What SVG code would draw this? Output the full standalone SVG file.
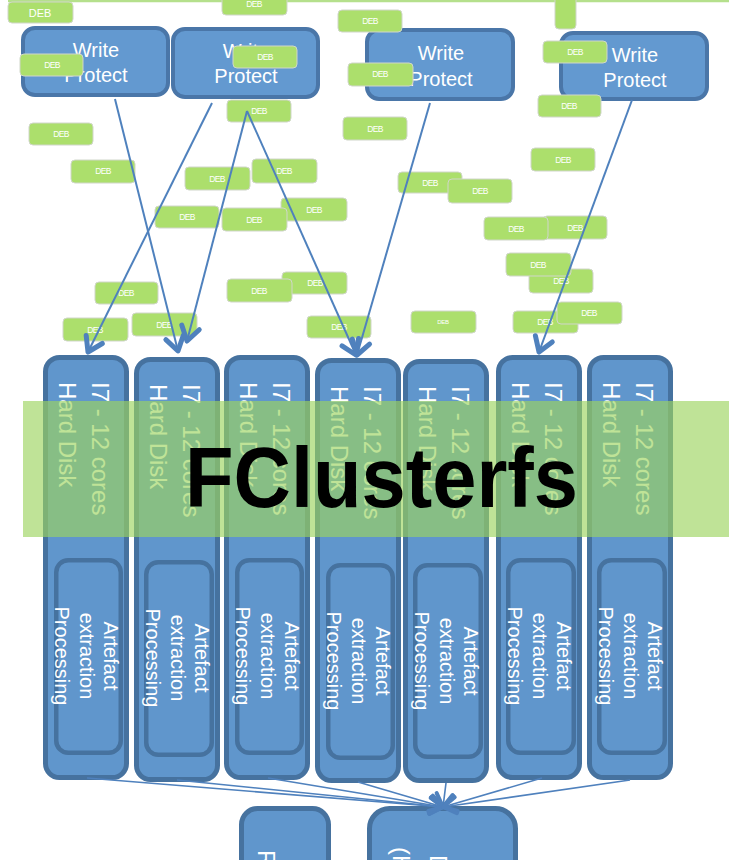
<svg xmlns="http://www.w3.org/2000/svg" width="729" height="860" viewBox="0 0 729 860">
<defs>
<style>
.wp rect{fill:#6399d0;stroke:#4a76a8;stroke-width:4}
.wt{font-family:"Liberation Sans",Arial,sans-serif;font-size:20px;fill:#fff;text-anchor:middle}
.dib rect{fill:#acdf6c;stroke:#d0d6ca;stroke-width:1}
.dib text{font-family:"Liberation Sans",Arial,sans-serif;font-size:8.5px;fill:#fff;text-anchor:middle;letter-spacing:-0.6px}
.outer{fill:#6096cc;stroke:#46729f;stroke-width:5}
.inner{fill:#6096cc;stroke:#46729f;stroke-width:4.5}
.ct{font-family:"Liberation Sans",Arial,sans-serif;font-size:24px;fill:#fff}
.at{font-family:"Liberation Sans",Arial,sans-serif;font-size:20px;fill:#fff;text-anchor:middle}
.top line{stroke:#4f81bd;stroke-width:2;fill:none;marker-end:url(#ah)}
.bot line{stroke:#4f81bd;stroke-width:1.6;fill:none;marker-end:url(#ah2)}
</style>
<marker id="ah" markerUnits="userSpaceOnUse" viewBox="-20 -14 26 28" refX="0" refY="0" markerWidth="26" markerHeight="28" orient="auto" overflow="visible">
<path d="M-14,-9 L0,0 L-14,9" fill="none" stroke="#4f81bd" stroke-width="5" stroke-linecap="round" stroke-linejoin="round"/>
</marker>
<marker id="ah2" markerUnits="userSpaceOnUse" viewBox="-20 -14 26 28" refX="0" refY="0" markerWidth="26" markerHeight="28" orient="auto" overflow="visible">
<path d="M-13,-8 L0,0 L-13,8" fill="none" stroke="#4f81bd" stroke-width="4" stroke-linecap="round" stroke-linejoin="round"/>
</marker>
</defs>

<line x1="8" y1="1" x2="729" y2="1" stroke="#b5e08c" stroke-width="2.5"/>

<g id="wp1" class="wp"><rect x="23" y="28" width="145" height="67" rx="12"/><text class="wt" x="96" y="57">Write</text><text class="wt" x="96" y="82">Protect</text></g>
<g id="wp2" class="wp"><rect x="173" y="29" width="145" height="68" rx="12"/><text class="wt" x="246" y="58">Write</text><text class="wt" x="246" y="83">Protect</text></g>
<g id="wp3" class="wp"><rect x="367" y="30" width="146" height="69" rx="12"/><text class="wt" x="441" y="60">Write</text><text class="wt" x="441" y="86">Protect</text></g>
<g id="wp4" class="wp"><rect x="561" y="33" width="146" height="66" rx="12"/><text class="wt" x="635" y="62">Write</text><text class="wt" x="635" y="87">Protect</text></g>

<g id="dibs" class="dib">
<g id="dib1"><rect x="8" y="2" width="65" height="21" rx="4"/><text x="40" y="17" style="font-size:11px;letter-spacing:0">DEB</text></g>
<g id="dib2"><rect x="222" y="-8" width="65" height="23" rx="4"/><text x="254" y="7">DEB</text></g>
<g id="dib3"><rect x="20" y="54" width="63" height="22" rx="4"/><text x="52" y="68">DEB</text></g>
<g id="dib4"><rect x="233" y="46" width="64" height="22" rx="4"/><text x="265" y="60">DEB</text></g>
<g id="dib5"><rect x="227" y="100" width="64" height="22" rx="4"/><text x="259" y="114">DEB</text></g>
<g id="dib6"><rect x="338" y="10" width="64" height="22" rx="4"/><text x="370" y="24">DEB</text></g>
<g id="dib7"><rect x="348" y="63" width="65" height="23" rx="4"/><text x="380" y="77">DEB</text></g>
<g id="dib8"><rect x="555" y="-5" width="21" height="34" rx="4"/></g>
<g id="dib9"><rect x="543" y="41" width="64" height="22" rx="4"/><text x="575" y="55">DEB</text></g>
<g id="dib10"><rect x="538" y="95" width="63" height="22" rx="4"/><text x="569" y="109">DEB</text></g>
<g id="dib11"><rect x="29" y="123" width="64" height="22" rx="4"/><text x="61" y="137">DEB</text></g>
<g id="dib12"><rect x="71" y="160" width="64" height="23" rx="4"/><text x="103" y="174">DEB</text></g>
<g id="dib13"><rect x="185" y="167" width="65" height="23" rx="4"/><text x="217" y="182">DEB</text></g>
<g id="dib14"><rect x="252" y="159" width="65" height="24" rx="4"/><text x="284" y="174">DEB</text></g>
<g id="dib15"><rect x="155" y="206" width="64" height="22" rx="4"/><text x="187" y="220">DEB</text></g>
<g id="dib17"><rect x="281" y="198" width="66" height="23" rx="4"/><text x="314" y="213">DEB</text></g>
<g id="dib16"><rect x="222" y="208" width="65" height="23" rx="4"/><text x="254" y="223">DEB</text></g>
<g id="dib18"><rect x="343" y="117" width="64" height="23" rx="4"/><text x="375" y="132">DEB</text></g>
<g id="dib19"><rect x="95" y="282" width="63" height="22" rx="4"/><text x="126" y="296">DEB</text></g>
<g id="dib21"><rect x="282" y="272" width="65" height="22" rx="4"/><text x="315" y="286">DEB</text></g>
<g id="dib20"><rect x="227" y="279" width="65" height="23" rx="4"/><text x="259" y="294">DEB</text></g>
<g id="dib22"><rect x="63" y="318" width="65" height="23" rx="4"/><text x="95" y="333">DEB</text></g>
<g id="dib23"><rect x="132" y="313" width="65" height="23" rx="4"/><text x="164" y="328">DEB</text></g>
<g id="dib24"><rect x="307" y="316" width="64" height="22" rx="4"/><text x="339" y="330">DEB</text></g>
<g id="dib25"><rect x="398" y="172" width="64" height="21" rx="4"/><text x="430" y="186">DEB</text></g>
<g id="dib26"><rect x="448" y="179" width="64" height="24" rx="4"/><text x="480" y="194">DEB</text></g>
<g id="dib27"><rect x="531" y="148" width="64" height="23" rx="4"/><text x="563" y="163">DEB</text></g>
<g id="dib29"><rect x="543" y="216" width="64" height="23" rx="4"/><text x="575" y="231">DEB</text></g>
<g id="dib28"><rect x="484" y="217" width="64" height="23" rx="4"/><text x="516" y="232">DEB</text></g>
<g id="dib31"><rect x="529" y="269" width="64" height="24" rx="4"/><text x="561" y="284">DEB</text></g>
<g id="dib30"><rect x="506" y="253" width="65" height="23" rx="4"/><text x="538" y="268">DEB</text></g>
<g id="dib32"><rect x="411" y="311" width="65" height="22" rx="4"/><text x="443" y="324" style="font-size:6px;letter-spacing:-0.3px">DEB</text></g>
<g id="dib33"><rect x="513" y="311" width="65" height="22" rx="4"/><text x="545" y="325">DEB</text></g>
<g id="dib34"><rect x="557" y="302" width="65" height="22" rx="4"/><text x="589" y="316">DEB</text></g>
</g>

<g id="col1"><rect class="outer" x="45.5" y="357.5" width="81" height="420" rx="14"/><rect class="inner" x="56.25" y="560.25" width="64.5" height="192.5" rx="12"/>
<text class="ct" transform="translate(92,382) rotate(90)">I7 - 12 cores</text><text class="ct" transform="translate(59,382) rotate(90)">Hard Disk</text>
<text class="at" transform="translate(104,656) rotate(90)">Artefact</text><text class="at" transform="translate(80,656) rotate(90)">extraction</text><text class="at" transform="translate(55,656) rotate(90)">Processing</text></g>
<g id="col2"><rect class="outer" x="136.5" y="359.5" width="81" height="420" rx="14"/><rect class="inner" x="146.25" y="562.25" width="65.5" height="192.5" rx="12"/>
<text class="ct" transform="translate(183,384) rotate(90)">I7 - 12 cores</text><text class="ct" transform="translate(150,384) rotate(90)">Hard Disk</text>
<text class="at" transform="translate(195,658) rotate(90)">Artefact</text><text class="at" transform="translate(171,658) rotate(90)">extraction</text><text class="at" transform="translate(146,658) rotate(90)">Processing</text></g>
<g id="col3"><rect class="outer" x="226.5" y="357.5" width="81" height="420" rx="14"/><rect class="inner" x="237.25" y="560.25" width="64.5" height="192.5" rx="12"/>
<text class="ct" transform="translate(273,382) rotate(90)">I7 - 12 cores</text><text class="ct" transform="translate(240,382) rotate(90)">Hard Disk</text>
<text class="at" transform="translate(285,656) rotate(90)">Artefact</text><text class="at" transform="translate(261,656) rotate(90)">extraction</text><text class="at" transform="translate(236,656) rotate(90)">Processing</text></g>
<g id="col4"><rect class="outer" x="317.5" y="360.5" width="81" height="420" rx="14"/><rect class="inner" x="328.25" y="565.25" width="64.5" height="192.5" rx="12"/>
<text class="ct" transform="translate(364,386) rotate(90)">I7 - 12 cores</text><text class="ct" transform="translate(331,386) rotate(90)">Hard Disk</text>
<text class="at" transform="translate(376,661) rotate(90)">Artefact</text><text class="at" transform="translate(352,661) rotate(90)">extraction</text><text class="at" transform="translate(327,661) rotate(90)">Processing</text></g>
<g id="col5"><rect class="outer" x="405.5" y="361.5" width="81" height="419" rx="14"/><rect class="inner" x="415.25" y="565.25" width="65.5" height="191.5" rx="12"/>
<text class="ct" transform="translate(452,386) rotate(90)">I7 - 12 cores</text><text class="ct" transform="translate(419,386) rotate(90)">Hard Disk</text>
<text class="at" transform="translate(464,661) rotate(90)">Artefact</text><text class="at" transform="translate(440,661) rotate(90)">extraction</text><text class="at" transform="translate(415,661) rotate(90)">Processing</text></g>
<g id="col6"><rect class="outer" x="498.5" y="357.5" width="81" height="420" rx="14"/><rect class="inner" x="508.25" y="560.25" width="65.5" height="192.5" rx="12"/>
<text class="ct" transform="translate(545,382) rotate(90)">I7 - 12 cores</text><text class="ct" transform="translate(512,382) rotate(90)">Hard Disk</text>
<text class="at" transform="translate(557,656) rotate(90)">Artefact</text><text class="at" transform="translate(533,656) rotate(90)">extraction</text><text class="at" transform="translate(508,656) rotate(90)">Processing</text></g>
<g id="col7"><rect class="outer" x="589.5" y="357.5" width="81" height="420" rx="14"/><rect class="inner" x="599.25" y="560.25" width="65.5" height="192.5" rx="12"/>
<text class="ct" transform="translate(636,382) rotate(90)">I7 - 12 cores</text><text class="ct" transform="translate(603,382) rotate(90)">Hard Disk</text>
<text class="at" transform="translate(648,656) rotate(90)">Artefact</text><text class="at" transform="translate(624,656) rotate(90)">extraction</text><text class="at" transform="translate(599,656) rotate(90)">Processing</text></g>

<g id="bottom1"><rect class="outer" x="241.5" y="808.5" width="87" height="90" rx="16"/><text class="ct" transform="translate(258,850) rotate(90)">R</text></g>
<g id="bottom2"><rect class="outer" x="369.5" y="808.5" width="146" height="90" rx="20"/><text class="ct" transform="translate(430,855) rotate(90)">D</text><text class="ct" transform="translate(393,847) rotate(90)">(H</text></g>

<g id="connectors">
<g class="top">
<line x1="115" y1="99" x2="178" y2="351"/>
<line x1="212" y1="103" x2="88" y2="352"/>
<line x1="247" y1="111" x2="187" y2="341"/>
<line x1="247" y1="111" x2="356" y2="355"/>
<line x1="430" y1="103" x2="357" y2="355"/>
<line x1="632" y1="100" x2="539" y2="352"/>
</g>
<g class="bot">
<line x1="87" y1="778" x2="443" y2="807"/>
<line x1="177" y1="780" x2="443" y2="807"/>
<line x1="268" y1="778" x2="443" y2="807"/>
<line x1="358" y1="782" x2="443" y2="807"/>
<line x1="446" y1="783" x2="443" y2="807"/>
<line x1="542" y1="778" x2="443" y2="807"/>
<line x1="630" y1="780" x2="443" y2="807"/>
</g>
</g>

<g id="title">
<rect x="23" y="401" width="706" height="136" fill="#9cd45f" fill-opacity="0.65"/>
<text x="185" y="507" textLength="393" lengthAdjust="spacingAndGlyphs" style="font-family:'Liberation Sans',Arial,sans-serif;font-weight:bold;font-size:85px;fill:#000">FClusterfs</text>
</g>
</svg>
